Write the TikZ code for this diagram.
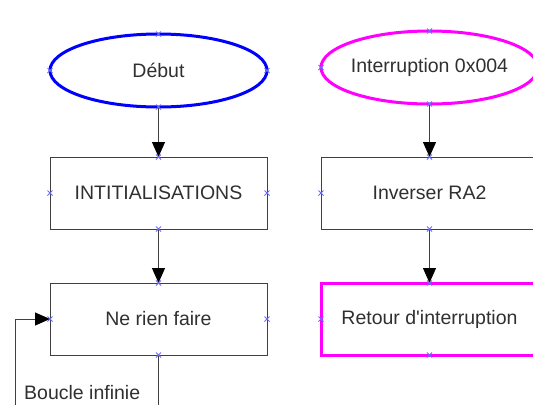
\documentclass[tikz,border=0pt]{standalone}
\usepackage{fontspec}
\setmainfont{Liberation Sans}
\usetikzlibrary{shapes.geometric,arrows.meta}
\definecolor{txt}{HTML}{303030}
\definecolor{ln}{HTML}{404040}
\definecolor{mkc}{HTML}{6A6AFF}
\definecolor{bl}{HTML}{0000FF}
\definecolor{mg}{HTML}{FF00FF}
\begin{document}
\begin{tikzpicture}[x=1pt,y=-1pt,
  every node/.style={font=\fontsize{19.5}{23}\selectfont, text=txt},
  oval/.style={ellipse, draw, line width=3pt, minimum width=217pt, minimum height=73pt, inner sep=0pt, outer sep=0pt},
  procbox/.style={rectangle, draw=ln, line width=1pt, minimum width=217pt, minimum height=72pt, inner sep=0pt, outer sep=0pt},
  flow/.style={draw=ln, line width=1pt, -{Triangle[length=15pt,width=13pt,black]}},
  plain/.style={draw=ln, line width=1pt},
  mk/.style={draw=mkc, line width=0.9pt}]
\useasboundingbox[fill=white] (0,0) rectangle (533,405);
\node[oval, draw=bl] (debut) at (158.5,70.5) {Début};
\node[oval, draw=mg, label={[inner sep=0pt]center:Interruption 0x004}] (intr) at (429.5,67.5) {};
\node[procbox] (init) at (158.5,193) {INTITIALISATIONS};
\node[procbox] (inv) at (429.5,193) {Inverser RA2};
\node[procbox] (rien) at (158.5,319) {Ne rien faire};
\node[procbox, draw=mg, line width=3pt] (ret) at (429.5,319) {Retour d\textquotesingle interruption};
\coordinate (lb) at (15,405);
\coordinate (rb) at (158.5,405);
\draw[flow] (debut.south) -- (init.north);
\draw[flow] (init.south) -- (rien.north);
\draw[flow] (intr.south) -- (inv.north);
\draw[flow] (inv.south) -- (ret.north);
\draw[plain] (rien.south) -- (rb);
\draw[flow] (lb) |- (rien.west);
\node[anchor=base west, inner sep=0pt] (boucle) at (24,399) {Boucle infinie};
\foreach \p in {debut.north,debut.south,debut.west,debut.east,
  intr.north,intr.south,intr.west,
  init.north,init.south,init.west,init.east,
  inv.north,inv.south,inv.west,
  rien.north,rien.south,rien.west,rien.east,
  ret.north,ret.south,ret.west}
  \draw[mk] (\p) ++(-2.5,-2.5) -- ++(5,5) ++(-5,0) -- ++(5,-5);
\end{tikzpicture}
\end{document}
